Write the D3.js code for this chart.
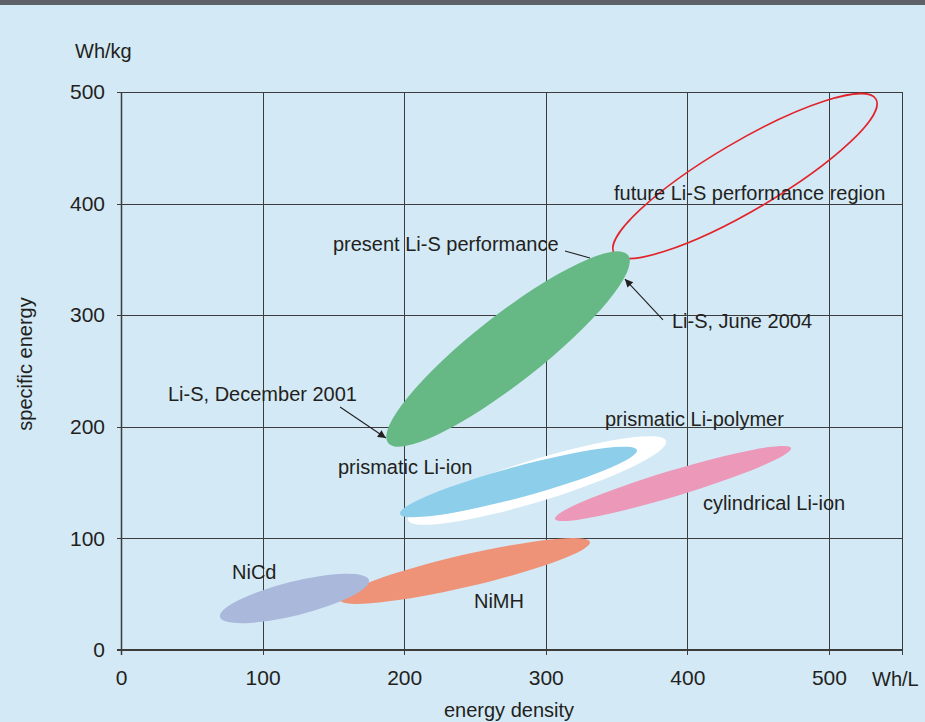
<!DOCTYPE html>
<html>
<head>
<meta charset="utf-8">
<script src="https://cdn.jsdelivr.net/npm/d3@7"></script>
<style>
  html, body { margin: 0; padding: 0; background: #d3e9f6; }
  svg { display: block; }
  text { font-family: "Liberation Sans", Arial, sans-serif; fill: #231f20; }
</style>
</head>
<body>
<svg id="chart" width="925" height="722"></svg>
<script>
// ---------- data ----------
const xTicks = [0, 100, 200, 300, 400, 500];
const yTicks = [0, 100, 200, 300, 400, 500];
const xUnit = "Wh/L";
const yUnit = "Wh/kg";
const xTitle = "energy density";
const yTitle = "specific energy";

// battery regions: ellipses given by the two ends of the long axis (Wh/L, Wh/kg)
const regionNames = ["future Li-S", "NiMH", "NiCd", "prismatic Li-polymer", "prismatic Li-ion", "cylindrical Li-ion", "present Li-S"];
const regionX1 = [348.2, 154.7, 69.9, 202.7, 197.0, 306.5, 188.6];
const regionY1 = [355.7, 44.8, 29.6, 116.5, 121.9, 117.4, 185.5];
const regionX2 = [533.2, 331.2, 175.1, 384.9, 364.4, 473.2, 358.1];
const regionY2 = [493.7, 96.8, 62.7, 187.3, 179.2, 181.0, 353.9];
const regionRatio = [0.225, 0.125, 0.22, 0.155, 0.126, 0.105, 0.223]; // short/long axis
const regionFill = ["none", "#ee9377", "#aab8dc", "#ffffff", "#8dcfeb", "#eb98b9", "#66b985"];
const regionStroke = ["#e2242a", "none", "none", "none", "none", "none", "none"];

// text labels (anchor in data units)
const labelText = ["future Li-S performance region", "present Li-S performance", "Li-S, June 2004", "Li-S, December 2001",
                   "prismatic Li-ion", "prismatic Li-polymer", "cylindrical Li-ion", "NiCd", "NiMH"];
const labelX = [348.2, 149.7, 389.1, 33.2, 153.2, 341.8, 411.0, 78.4, 249.3];
const labelY = [403.2, 357.5, 288.2, 223.1, 157.7, 200.8, 125.4, 63.6, 37.6];

// leader lines / arrows (from, to in data units)
const arrowX1 = [154.7, 382.8, 313.6];
const arrowY1 = [217.7, 295.7, 357.5];
const arrowX2 = [187.1, 355.9, 331.2];
const arrowY2 = [189.9, 332.4, 351.3];
const arrowHead = [true, true, false];

// ---------- layout ----------
const svg = d3.select("#chart");
const mLeft = 121, mRight = 902, mTop = 92, mBottom = 650;
const xMax = 551.6;
const x = d3.scaleLinear().domain([0, xMax]).range([mLeft, mRight]);
const y = d3.scaleLinear().domain([0, 500]).range([mBottom, mTop]);

svg.append("rect").attr("width", 925).attr("height", 722).attr("fill", "#d3e9f6");
svg.append("rect").attr("width", 925).attr("height", 5).attr("fill", "#5e6267");

// grid
const gridColor = "#3c3c3c";
const grid = svg.append("g").attr("stroke", gridColor).attr("stroke-width", 1).attr("shape-rendering", "crispEdges");
grid.selectAll("line.v").data(xTicks.concat([xMax])).join("line")
  .attr("x1", d => Math.round(x(d)) + 0.5).attr("x2", d => Math.round(x(d)) + 0.5)
  .attr("y1", mTop).attr("y2", mBottom + 5);
grid.selectAll("line.h").data(yTicks).join("line")
  .attr("x1", mLeft - 4).attr("x2", mRight)
  .attr("y1", d => Math.round(y(d)) + 0.5).attr("y2", d => Math.round(y(d)) + 0.5);
// heavier axes
svg.append("line").attr("x1", mLeft - 4).attr("x2", mRight + 1).attr("y1", mBottom).attr("y2", mBottom)
  .attr("stroke", gridColor).attr("stroke-width", 2);
svg.append("line").attr("x1", mLeft + 0.5).attr("x2", mLeft + 0.5).attr("y1", mTop).attr("y2", mBottom + 5)
  .attr("stroke", gridColor).attr("stroke-width", 1.5);

// axes labels via d3 axes (tick lines drawn with grid)
const xAxis = svg.append("g").attr("transform", `translate(0,${mBottom})`)
  .call(d3.axisBottom(x).tickValues(xTicks).tickSize(0).tickPadding(20));
const yAxis = svg.append("g").attr("transform", `translate(${mLeft},0)`)
  .call(d3.axisLeft(y).tickValues(yTicks).tickSize(0).tickPadding(16));
[xAxis, yAxis].forEach(a => {
  a.select(".domain").remove();
  a.selectAll("text").attr("font-size", 21).attr("fill", "#231f20")
    .attr("font-family", '"Liberation Sans", Arial, sans-serif');
});

svg.append("text").attr("x", 872).attr("y", 686).attr("font-size", 20).text(xUnit);
svg.append("text").attr("x", 75).attr("y", 58).attr("font-size", 20).text(yUnit);
svg.append("text").attr("x", 509).attr("y", 717).attr("font-size", 20)
  .attr("text-anchor", "middle").text(xTitle);
svg.append("text").attr("transform", "translate(32,364) rotate(-90)").attr("font-size", 20)
  .attr("text-anchor", "middle").text(yTitle);

// regions
const regions = regionNames.map((n, i) => {
  const p1 = [x(regionX1[i]), y(regionY1[i])], p2 = [x(regionX2[i]), y(regionY2[i])];
  const cx = (p1[0] + p2[0]) / 2, cy = (p1[1] + p2[1]) / 2;
  const a = Math.hypot(p2[0] - p1[0], p2[1] - p1[1]) / 2;
  const ang = Math.atan2(p2[1] - p1[1], p2[0] - p1[0]) * 180 / Math.PI;
  return { n, cx, cy, a, b: a * regionRatio[i], ang, fill: regionFill[i], stroke: regionStroke[i] };
});
svg.append("g").selectAll("ellipse").data(regions).join("ellipse")
  .attr("cx", 0).attr("cy", 0)
  .attr("rx", d => d.a).attr("ry", d => d.b)
  .attr("transform", d => `translate(${d.cx},${d.cy}) rotate(${d.ang})`)
  .attr("fill", d => d.fill)
  .attr("stroke", d => d.stroke).attr("stroke-width", 1.6);

// arrows
const defs = svg.append("defs");
defs.append("marker").attr("id", "ah").attr("viewBox", "0 0 10 10")
  .attr("refX", 10).attr("refY", 5).attr("markerWidth", 10).attr("markerHeight", 8)
  .attr("markerUnits", "userSpaceOnUse").attr("orient", "auto")
  .append("path").attr("d", "M0,0 L10,5 L0,10 Z").attr("fill", "#231f20");
svg.append("g").selectAll("line").data(arrowX1).join("line")
  .attr("x1", (d, i) => x(arrowX1[i])).attr("y1", (d, i) => y(arrowY1[i]))
  .attr("x2", (d, i) => x(arrowX2[i])).attr("y2", (d, i) => y(arrowY2[i]))
  .attr("stroke", "#231f20").attr("stroke-width", 1.1)
  .attr("marker-end", (d, i) => arrowHead[i] ? "url(#ah)" : null);

// labels
svg.append("g").selectAll("text").data(labelText).join("text")
  .attr("x", (d, i) => x(labelX[i])).attr("y", (d, i) => y(labelY[i]))
  .attr("font-size", 20).text(d => d);
</script>
</body>
</html>
